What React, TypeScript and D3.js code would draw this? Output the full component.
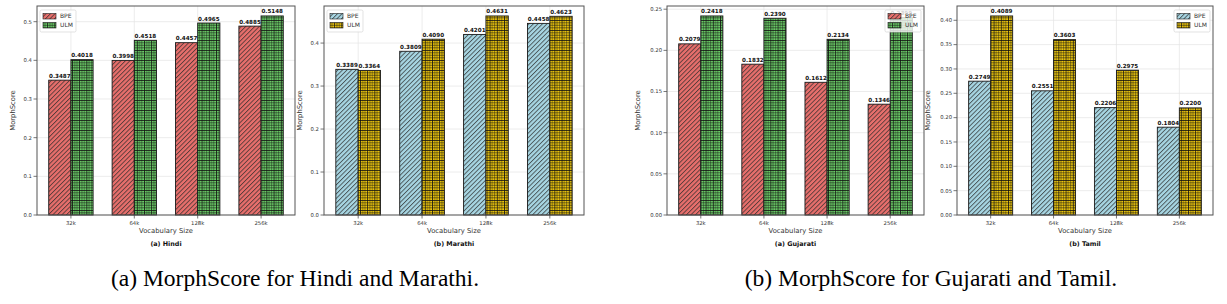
import {useEffect, useRef} from "react";
import * as d3 from "d3";

// vocabulary sizes shared by all four panels
const vocabSizes = ["32k", "64k", "128k", "256k"];

const hindiBpe = [0.3487, 0.3998, 0.4457, 0.4885];
const hindiUlm = [0.4018, 0.4518, 0.4965, 0.5148];

const marathiBpe = [0.3389, 0.3809, 0.4201, 0.4458];
const marathiUlm = [0.3364, 0.409, 0.4631, 0.4623];

const gujaratiBpe = [0.2079, 0.1832, 0.1612, 0.1346];
const gujaratiUlm = [0.2418, 0.239, 0.2134, 0.2399];

const tamilBpe = [0.2749, 0.2551, 0.2206, 0.1804];
const tamilUlm = [0.4089, 0.3603, 0.2975, 0.22];

const hindiTicks = [0, 0.1, 0.2, 0.3, 0.4, 0.5];
const marathiTicks = [0, 0.1, 0.2, 0.3, 0.4];
const gujaratiTicks = [0, 0.05, 0.1, 0.15, 0.2, 0.25];
const tamilTicks = [0, 0.05, 0.1, 0.15, 0.2, 0.25, 0.3, 0.35, 0.4];

interface PanelSpec {
  title: string;
  bpe: number[];
  ulm: number[];
  ticks: number[];
  tickFmt: string;
  left: number;
  right: number;
  legend: "left" | "right";
  palette: "warm" | "cool";
}

const panels: PanelSpec[] = [
  {title: "(a) Hindi", bpe: hindiBpe, ulm: hindiUlm, ticks: hindiTicks, tickFmt: ".1f", left: 37, right: 295, legend: "left", palette: "warm"},
  {title: "(b) Marathi", bpe: marathiBpe, ulm: marathiUlm, ticks: marathiTicks, tickFmt: ".1f", left: 324, right: 584, legend: "left", palette: "cool"},
  {title: "(a) Gujarati", bpe: gujaratiBpe, ulm: gujaratiUlm, ticks: gujaratiTicks, tickFmt: ".2f", left: 667, right: 924, legend: "right", palette: "warm"},
  {title: "(b) Tamil", bpe: tamilBpe, ulm: tamilUlm, ticks: tamilTicks, tickFmt: ".2f", left: 957, right: 1213, legend: "right", palette: "cool"},
];

const colors = {
  warm: {bpe: "#e86f6c", ulm: "#6ccf68"},
  cool: {bpe: "#a7d6e3", ulm: "#f0c90c"},
};

const TOP = 6;
const BOTTOM = 215;
const BAR_W = 0.35;
const SANS = "DejaVu Sans, sans-serif";

export default function App() {
  const svgRef = useRef<SVGSVGElement>(null);

  useEffect(() => {
    if (!svgRef.current) return;
    const svg = d3.select(svgRef.current);
    svg.selectAll("*").remove();

    const defs = svg.append("defs");

    // diagonal "////" hatch for BPE and a checker grid for ULM
    (["warm", "cool"] as const).forEach((p) => {
      const diag = defs
        .append("pattern")
        .attr("id", `bpe-${p}`)
        .attr("patternUnits", "userSpaceOnUse")
        .attr("width", 3.2)
        .attr("height", 3.2)
        .attr("patternTransform", "rotate(45)");
      diag.append("rect").attr("width", 3.2).attr("height", 3.2).attr("fill", colors[p].bpe);
      diag.append("line").attr("x1", 0.5).attr("y1", 0).attr("x2", 0.5).attr("y2", 3.2)
        .attr("stroke", "#2a2a2a").attr("stroke-width", 0.7);

      const grid = defs
        .append("pattern")
        .attr("id", `ulm-${p}`)
        .attr("patternUnits", "userSpaceOnUse")
        .attr("width", 7.2)
        .attr("height", 10);
      grid.append("rect").attr("width", 7.2).attr("height", 10).attr("fill", colors[p].ulm);
      [0, 2.4, 4.8].forEach((x, i) => {
        grid.append("line").attr("x1", x + 0.3).attr("x2", x + 0.3).attr("y1", 0).attr("y2", 10)
          .attr("stroke", "#111").attr("stroke-width", i === 0 ? 1 : 0.5);
      });
      [0, 2.5, 5, 7.5].forEach((y, i) => {
        grid.append("line").attr("y1", y + 0.3).attr("y2", y + 0.3).attr("x1", 0).attr("x2", 7.2)
          .attr("stroke", "#111").attr("stroke-width", i === 0 ? 1 : 0.5);
      });
    });

    panels.forEach((pn) => {
      const g = svg.append("g");
      const maxV = d3.max([...pn.bpe, ...pn.ulm]) as number;
      const y = d3.scaleLinear().domain([0, maxV * 1.05]).range([BOTTOM, TOP]);
      const x = d3.scaleLinear().domain([-0.535, vocabSizes.length - 1 + 0.535]).range([pn.left, pn.right]);

      // grid
      g.selectAll(".hg").data(pn.ticks).enter().append("line")
        .attr("x1", pn.left).attr("x2", pn.right)
        .attr("y1", (d) => y(d)).attr("y2", (d) => y(d))
        .attr("stroke", "#e4e4e4").attr("stroke-width", 0.7);
      g.selectAll(".vg").data(vocabSizes).enter().append("line")
        .attr("x1", (_, i) => x(i)).attr("x2", (_, i) => x(i))
        .attr("y1", TOP).attr("y2", BOTTOM)
        .attr("stroke", "#e4e4e4").attr("stroke-width", 0.7);

      // bars
      const series = [
        {key: "bpe", vals: pn.bpe, off: -BAR_W / 2},
        {key: "ulm", vals: pn.ulm, off: BAR_W / 2},
      ];
      series.forEach((s) => {
        const barW = x(BAR_W) - x(0);
        g.selectAll(`.bar-${s.key}`).data(s.vals).enter().append("rect")
          .attr("x", (_, i) => x(i + s.off) - barW / 2)
          .attr("y", (d) => y(d))
          .attr("width", barW)
          .attr("height", (d) => BOTTOM - y(d))
          .attr("fill", `url(#${s.key}-${pn.palette})`)
          .attr("stroke", "#1a1a1a").attr("stroke-width", 0.9);
        g.selectAll(`.lbl-${s.key}`).data(s.vals).enter().append("text")
          .attr("x", (_, i) => x(i + s.off))
          .attr("y", (d) => y(d) - 2.5)
          .attr("text-anchor", "middle")
          .style("font-family", SANS).style("font-size", "5.6px").style("font-weight", "bold")
          .attr("fill", "#111")
          .text((d) => d3.format(".4f")(d));
      });

      // frame
      g.append("rect").attr("x", pn.left).attr("y", TOP)
        .attr("width", pn.right - pn.left).attr("height", BOTTOM - TOP)
        .attr("fill", "none").attr("stroke", "#555").attr("stroke-width", 1);

      // y ticks
      const fmt = d3.format(pn.tickFmt);
      pn.ticks.forEach((t) => {
        g.append("line").attr("x1", pn.left - 3.5).attr("x2", pn.left)
          .attr("y1", y(t)).attr("y2", y(t)).attr("stroke", "#555").attr("stroke-width", 0.8);
        g.append("text").attr("x", pn.left - 5).attr("y", y(t)).attr("dy", "0.35em")
          .attr("text-anchor", "end")
          .style("font-family", SANS).style("font-size", "5.3px").attr("fill", "#333")
          .text(fmt(t));
      });

      // x ticks
      vocabSizes.forEach((v, i) => {
        g.append("line").attr("x1", x(i)).attr("x2", x(i))
          .attr("y1", BOTTOM).attr("y2", BOTTOM + 3.5).attr("stroke", "#555").attr("stroke-width", 0.8);
        g.append("text").attr("x", x(i)).attr("y", BOTTOM + 9.5)
          .attr("text-anchor", "middle")
          .style("font-family", SANS).style("font-size", "5.3px").attr("fill", "#333")
          .text(v);
      });

      const cx = (pn.left + pn.right) / 2;
      g.append("text").attr("x", cx).attr("y", 232.5).attr("text-anchor", "middle")
        .style("font-family", SANS).style("font-size", "6.8px").attr("fill", "#333")
        .text("Vocabulary Size");
      g.append("text").attr("x", cx).attr("y", 245.5).attr("text-anchor", "middle")
        .style("font-family", SANS).style("font-size", "6.4px").style("font-weight", "bold").attr("fill", "#111")
        .text(pn.title);
      const ylx = pn.left - (pn.ticks[1] < 0.1 ? 27 : 22);
      g.append("text")
        .attr("transform", `translate(${ylx},${(TOP + BOTTOM) / 2}) rotate(-90)`)
        .attr("text-anchor", "middle")
        .style("font-family", SANS).style("font-size", "6.8px").attr("fill", "#333")
        .text("MorphScore");

      // legend (semi-transparent, drawn over the bars)
      const lw = 36;
      const lh = 22;
      const lx = pn.legend === "left" ? pn.left + 3 : pn.right - 3 - lw;
      const ly = 10;
      const lg = g.append("g").attr("transform", `translate(${lx},${ly})`);
      lg.append("rect").attr("width", lw).attr("height", lh).attr("rx", 1.5)
        .attr("fill", "white").attr("fill-opacity", 0.8).attr("stroke", "#d6d6d6").attr("stroke-width", 0.7);
      ["BPE", "ULM"].forEach((name, i) => {
        const key = i === 0 ? "bpe" : "ulm";
        lg.append("rect").attr("x", 3).attr("y", 3.5 + i * 9).attr("width", 13).attr("height", 5.5)
          .attr("fill", `url(#${key}-${pn.palette})`).attr("stroke", "#1a1a1a").attr("stroke-width", 0.6);
        lg.append("text").attr("x", 20).attr("y", 6.3 + i * 9).attr("dy", "0.35em")
          .style("font-family", SANS).style("font-size", "6px").attr("fill", "#333")
          .text(name);
      });
    });

    // figure captions
    const captions = [
      {text: "(a) MorphScore for Hindi and Marathi.", x: 295},
      {text: "(b) MorphScore for Gujarati and Tamil.", x: 931},
    ];
    svg.selectAll(".cap").data(captions).enter().append("text")
      .attr("x", (d) => d.x).attr("y", 286)
      .attr("text-anchor", "middle")
      .style("font-family", "Liberation Serif, serif").style("font-size", "23.5px").attr("fill", "#000")
      .text((d) => d.text);
  }, []);

  return (
    <svg
      ref={svgRef}
      width={1227}
      height={304}
      style={{position: "absolute", left: 0, top: 0, background: "white", display: "block"}}
    />
  );
}
